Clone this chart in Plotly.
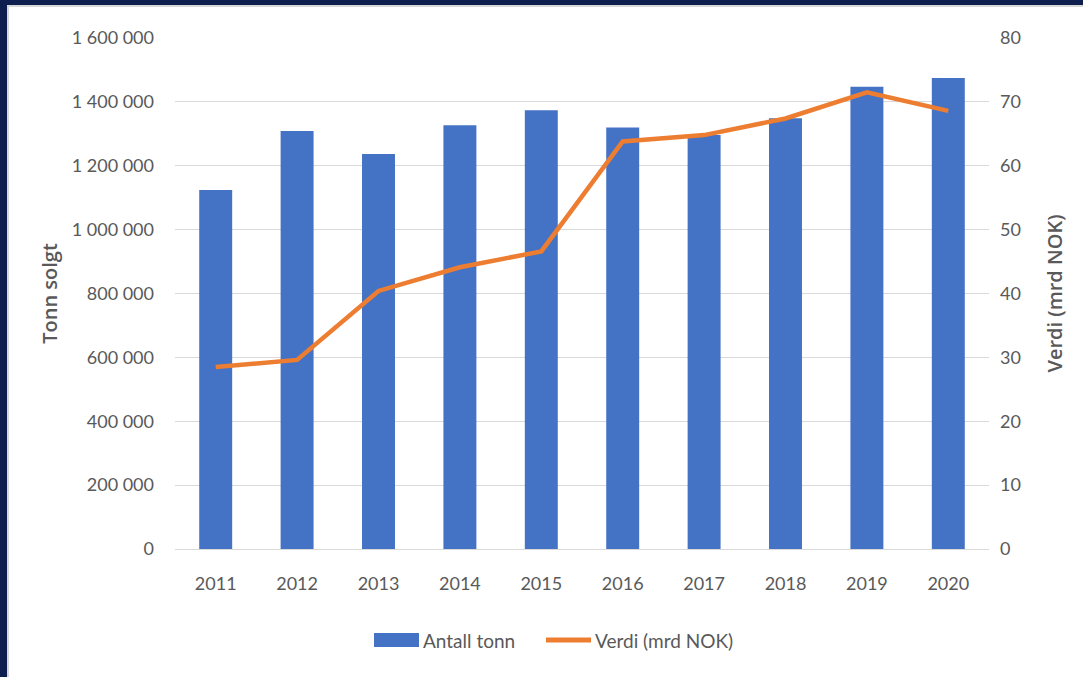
import plotly.graph_objects as go

years = ["2011", "2012", "2013", "2014", "2015", "2016", "2017", "2018", "2019", "2020"]
tonn = [1124000, 1309000, 1237000, 1327000, 1374000, 1320000, 1296000, 1349000, 1447000, 1475000]
verdi = [28.5, 29.6, 40.4, 44.1, 46.6, 63.8, 64.8, 67.4, 71.5, 68.6]
legend_names = ["Antall tonn", "Verdi (mrd NOK)"]
colors = ["#4472C4", "#ED7D31"]

W, H = 1083, 677
L, R, T, B = 175, 94, 38, 128
pw, ph = W - L - R, H - T - B

def px_x(p):
    return (p - L) / pw

def px_y(p):
    return 1 - (p - T) / ph

fig = go.Figure()
fig.add_trace(go.Bar(x=years, y=tonn, name=legend_names[0], marker_color=colors[0],
                     marker_line_width=0, width=0.405, yaxis="y"))
fig.add_trace(go.Scatter(x=years, y=verdi, name=legend_names[1], mode="lines",
                         line=dict(color=colors[1], width=4.5), yaxis="y2"))

tickfont = dict(family="Lato, sans-serif", size=18, color="#595959")
titlefont = dict(family="Open Sans, sans-serif", size=20, color="#595959", weight=600)

shapes = [
    dict(type="rect", xref="paper", yref="paper", x0=px_x(0), x1=px_x(W), y0=px_y(0), y1=px_y(5),
         fillcolor="#0e1f4f", line_width=0, layer="above"),
    dict(type="rect", xref="paper", yref="paper", x0=px_x(0), x1=px_x(7), y0=px_y(0), y1=px_y(H),
         fillcolor="#0e1f4f", line_width=0, layer="above"),
    dict(type="rect", xref="paper", yref="paper", x0=px_x(7), x1=px_x(W), y0=px_y(5), y1=px_y(7),
         fillcolor="#d8d8d8", line_width=0, layer="above"),
    dict(type="rect", xref="paper", yref="paper", x0=px_x(7), x1=px_x(9), y0=px_y(5), y1=px_y(H),
         fillcolor="#d8d8d8", line_width=0, layer="above"),
    # legend symbols
    dict(type="rect", xref="paper", yref="paper", x0=px_x(374), x1=px_x(419), y0=px_y(647), y1=px_y(633),
         fillcolor=colors[0], line_width=0),
    dict(type="line", xref="paper", yref="paper", x0=px_x(546), x1=px_x(591), y0=px_y(640), y1=px_y(640),
         line=dict(color=colors[1], width=5)),
]

legfont = dict(family="Lato, sans-serif", size=19, color="#595959")
annotations = [
    dict(xref="paper", yref="paper", x=px_x(421), y=px_y(640), text=legend_names[0], showarrow=False,
         xanchor="left", yanchor="middle", font=legfont),
    dict(xref="paper", yref="paper", x=px_x(593), y=px_y(640), text=legend_names[1], showarrow=False,
         xanchor="left", yanchor="middle", font=legfont),
]

fig.update_layout(
    width=W, height=H,
    margin=dict(l=L, r=R, t=T, b=B),
    paper_bgcolor="white", plot_bgcolor="white",
    separators=", ",
    showlegend=False,
    xaxis=dict(tickfont=tickfont, showgrid=False, ticks="", showline=False, ticklabelstandoff=22),
    yaxis=dict(range=[0, 1600000], dtick=200000, tickformat=",d", tickfont=tickfont,
               gridcolor="#d9d9d9", gridwidth=1, zeroline=True, zerolinecolor="#d9d9d9",
               zerolinewidth=1, showline=False, ticks="", ticklabelstandoff=20,
               title=dict(text="Tonn solgt", font=titlefont, standoff=8)),
    yaxis2=dict(range=[0, 80], dtick=10, overlaying="y", side="right", tickfont=tickfont,
                showgrid=False, zeroline=False, showline=False, ticks="", ticklabelstandoff=10,
                title=dict(text="Verdi (mrd NOK)", font=titlefont, standoff=28)),
    shapes=shapes,
    annotations=annotations,
)

fig.write_html("out.html")
